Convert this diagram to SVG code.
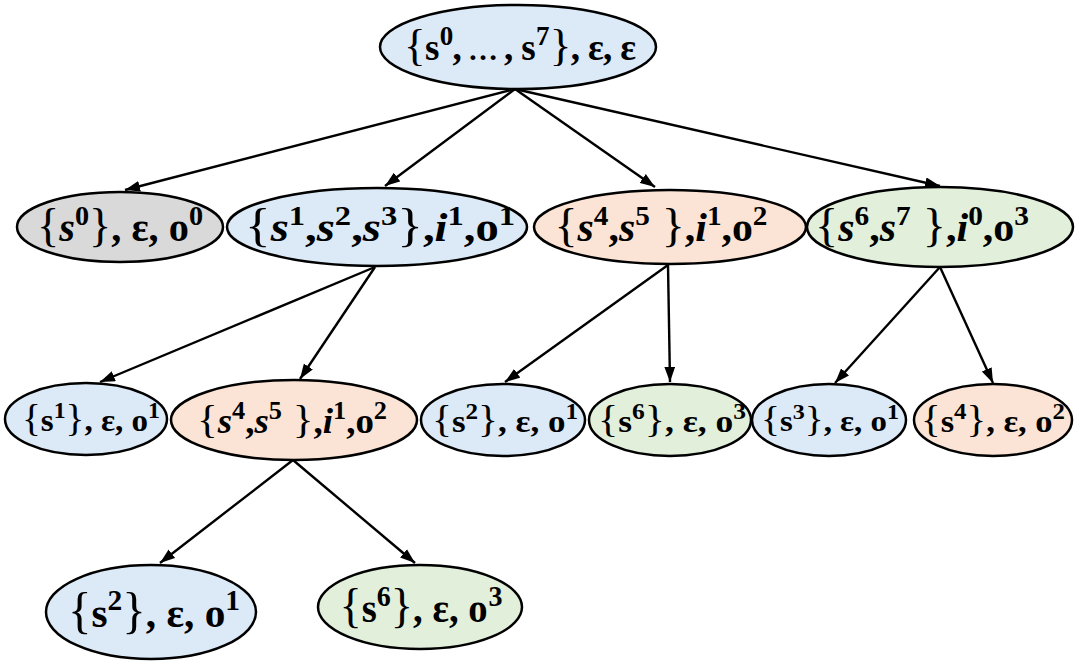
<svg xmlns="http://www.w3.org/2000/svg" width="1078" height="664" viewBox="0 0 1078 664">
<defs>
<marker id="a2" viewBox="0 0 14 10" refX="14" refY="5" markerWidth="15" markerHeight="11" orient="auto" markerUnits="userSpaceOnUse">
<path d="M0,0 L14,5 L0,10 z" fill="#000"/>
</marker>
<style>
.e{stroke:#000;stroke-width:2.5}
.blue{fill:#dce9f6}
.gray{fill:#d9d9d9}
.org{fill:#fbe4d5}
.grn{fill:#e2efda}
.t{font-family:"Liberation Serif","DejaVu Serif",serif;font-weight:700;text-anchor:middle;fill:#000}
.br{font-weight:400}
.i{font-style:italic}
.c line{stroke:#000;stroke-width:2.4;marker-end:url(#a2)}
</style>
</defs>
<g class="c" id="connectors">
<line x1="515" y1="89" x2="125" y2="190"/>
<line x1="515" y1="89" x2="385" y2="186"/>
<line x1="515" y1="89" x2="655" y2="187"/>
<line x1="515" y1="89" x2="940" y2="186"/>
<line x1="375" y1="267" x2="100" y2="382"/>
<line x1="375" y1="267" x2="300" y2="379"/>
<line x1="668" y1="265" x2="505" y2="382"/>
<line x1="668" y1="265" x2="670" y2="382"/>
<line x1="940" y1="267" x2="835" y2="383"/>
<line x1="940" y1="267" x2="993" y2="383"/>
<line x1="293" y1="460" x2="160" y2="563"/>
<line x1="293" y1="460" x2="415" y2="563"/>
</g>
<g id="n0">
<ellipse class="e blue" cx="518" cy="47" rx="138" ry="42"/>
<text class="t" x="520" y="60" font-size="37" textLength="232" lengthAdjust="spacing"><tspan class="br" font-size="45">{</tspan>s<tspan font-size="27" dx="1" dy="-15">0</tspan><tspan dy="15">,</tspan><tspan font-size="30"> … </tspan>,<tspan> s</tspan><tspan font-size="27" dx="1" dy="-15">7</tspan><tspan class="br" font-size="45" dx="1" dy="15">}</tspan>, ε, ε</text>
</g>
<g id="n1">
<ellipse class="e gray" cx="120" cy="227" rx="103" ry="35"/>
<text class="t" x="120" y="241" font-size="40" textLength="166" lengthAdjust="spacingAndGlyphs"><tspan class="br" font-size="46">{</tspan><tspan class="i">s</tspan><tspan font-size="28" dy="-16">0</tspan><tspan class="br" font-size="46" dy="16">}</tspan>, ε, o<tspan font-size="28" dy="-16">0</tspan></text>
</g>
<g id="n2">
<ellipse class="e blue" cx="377" cy="227" rx="150" ry="39"/>
<text class="t" x="380" y="241" font-size="40" textLength="270" lengthAdjust="spacingAndGlyphs"><tspan class="br" font-size="46">{</tspan><tspan class="i">s</tspan><tspan font-size="28" dy="-16">1</tspan><tspan dy="16">,</tspan><tspan class="i">s</tspan><tspan font-size="28" dy="-16">2</tspan><tspan dy="16">,</tspan><tspan class="i">s</tspan><tspan font-size="28" dy="-16">3</tspan><tspan class="br" font-size="46" dy="16">}</tspan>,<tspan class="i">i</tspan><tspan font-size="28" dy="-16">1</tspan><tspan dy="16">,o</tspan><tspan font-size="28" dy="-16">1</tspan></text>
</g>
<g id="n3">
<ellipse class="e org" cx="670" cy="227" rx="136" ry="37"/>
<text class="t" x="661" y="241" font-size="40" textLength="213" lengthAdjust="spacingAndGlyphs"><tspan class="br" font-size="46">{</tspan><tspan class="i">s</tspan><tspan font-size="28" dy="-16">4</tspan><tspan dy="16">,</tspan><tspan class="i">s</tspan><tspan font-size="28" dy="-16">5</tspan><tspan class="br" font-size="46" dy="16"> }</tspan>,<tspan class="i">i</tspan><tspan font-size="28" dy="-16">1</tspan><tspan dy="16">,o</tspan><tspan font-size="28" dy="-16">2</tspan></text>
</g>
<g id="n4">
<ellipse class="e grn" cx="940" cy="227" rx="133" ry="40"/>
<text class="t" x="922" y="241" font-size="40" textLength="214" lengthAdjust="spacingAndGlyphs"><tspan class="br" font-size="46">{</tspan><tspan class="i">s</tspan><tspan font-size="28" dy="-16">6</tspan><tspan dy="16">,</tspan><tspan class="i">s</tspan><tspan font-size="28" dy="-16">7</tspan><tspan class="br" font-size="46" dy="16"> }</tspan>,<tspan class="i">i</tspan><tspan font-size="28" dy="-16">0</tspan><tspan dy="16">,o</tspan><tspan font-size="28" dy="-16">3</tspan></text>
</g>
<g id="n5">
<ellipse class="e blue" cx="86" cy="419" rx="81" ry="36"/>
<text class="t" x="91" y="431" font-size="32" textLength="138" lengthAdjust="spacingAndGlyphs"><tspan class="br" font-size="38">{</tspan>s<tspan font-size="23" dy="-13">1</tspan><tspan class="br" font-size="38" dy="13">}</tspan>, ε, o<tspan font-size="23" dy="-13">1</tspan></text>
</g>
<g id="n6">
<ellipse class="e org" cx="294" cy="420" rx="123" ry="40"/>
<text class="t" x="292" y="433" font-size="35" textLength="190" lengthAdjust="spacingAndGlyphs"><tspan class="br" font-size="41">{</tspan><tspan class="i">s</tspan><tspan font-size="25" dy="-14">4</tspan><tspan dy="14">,</tspan><tspan class="i">s</tspan><tspan font-size="25" dy="-14">5</tspan><tspan class="br" font-size="41" dy="14"> }</tspan>,<tspan class="i">i</tspan><tspan font-size="25" dy="-14">1</tspan><tspan dy="14">,o</tspan><tspan font-size="25" dy="-14">2</tspan></text>
</g>
<g id="n7">
<ellipse class="e blue" cx="503" cy="420" rx="82" ry="36"/>
<text class="t" x="505" y="432" font-size="32" textLength="146" lengthAdjust="spacingAndGlyphs"><tspan class="br" font-size="38">{</tspan>s<tspan font-size="23" dy="-13">2</tspan><tspan class="br" font-size="38" dy="13">}</tspan>, ε, o<tspan font-size="23" dy="-13">1</tspan></text>
</g>
<g id="n8">
<ellipse class="e grn" cx="670" cy="420" rx="81" ry="36"/>
<text class="t" x="672" y="432" font-size="32" textLength="148" lengthAdjust="spacingAndGlyphs"><tspan class="br" font-size="38">{</tspan>s<tspan font-size="23" dy="-13">6</tspan><tspan class="br" font-size="38" dy="13">}</tspan>, ε, o<tspan font-size="23" dy="-13">3</tspan></text>
</g>
<g id="n9">
<ellipse class="e blue" cx="829" cy="420" rx="77" ry="36"/>
<text class="t" x="830" y="431" font-size="30" textLength="138" lengthAdjust="spacingAndGlyphs"><tspan class="br" font-size="36">{</tspan>s<tspan font-size="22" dy="-12">3</tspan><tspan class="br" font-size="36" dy="12">}</tspan>, ε, o<tspan font-size="22" dy="-12">1</tspan></text>
</g>
<g id="n10">
<ellipse class="e org" cx="993" cy="420" rx="79" ry="36"/>
<text class="t" x="993" y="432" font-size="32" textLength="144" lengthAdjust="spacingAndGlyphs"><tspan class="br" font-size="38">{</tspan>s<tspan font-size="23" dy="-13">4</tspan><tspan class="br" font-size="38" dy="13">}</tspan>, ε, o<tspan font-size="23" dy="-13">2</tspan></text>
</g>
<g id="n11">
<ellipse class="e blue" cx="151" cy="612" rx="105" ry="47"/>
<text class="t" x="154" y="627" font-size="42" textLength="172" lengthAdjust="spacingAndGlyphs"><tspan class="br" font-size="50">{</tspan>s<tspan font-size="30" dy="-17">2</tspan><tspan class="br" font-size="50" dy="17">}</tspan>, ε, o<tspan font-size="30" dy="-17">1</tspan></text>
</g>
<g id="n12">
<ellipse class="e grn" cx="420" cy="607" rx="102" ry="42"/>
<text class="t" x="421" y="622" font-size="40" textLength="163" lengthAdjust="spacingAndGlyphs"><tspan class="br" font-size="48">{</tspan>s<tspan font-size="29" dy="-16">6</tspan><tspan class="br" font-size="48" dy="16">}</tspan>, ε, o<tspan font-size="29" dx="1" dy="-16">3</tspan></text>
</g>
</svg>
